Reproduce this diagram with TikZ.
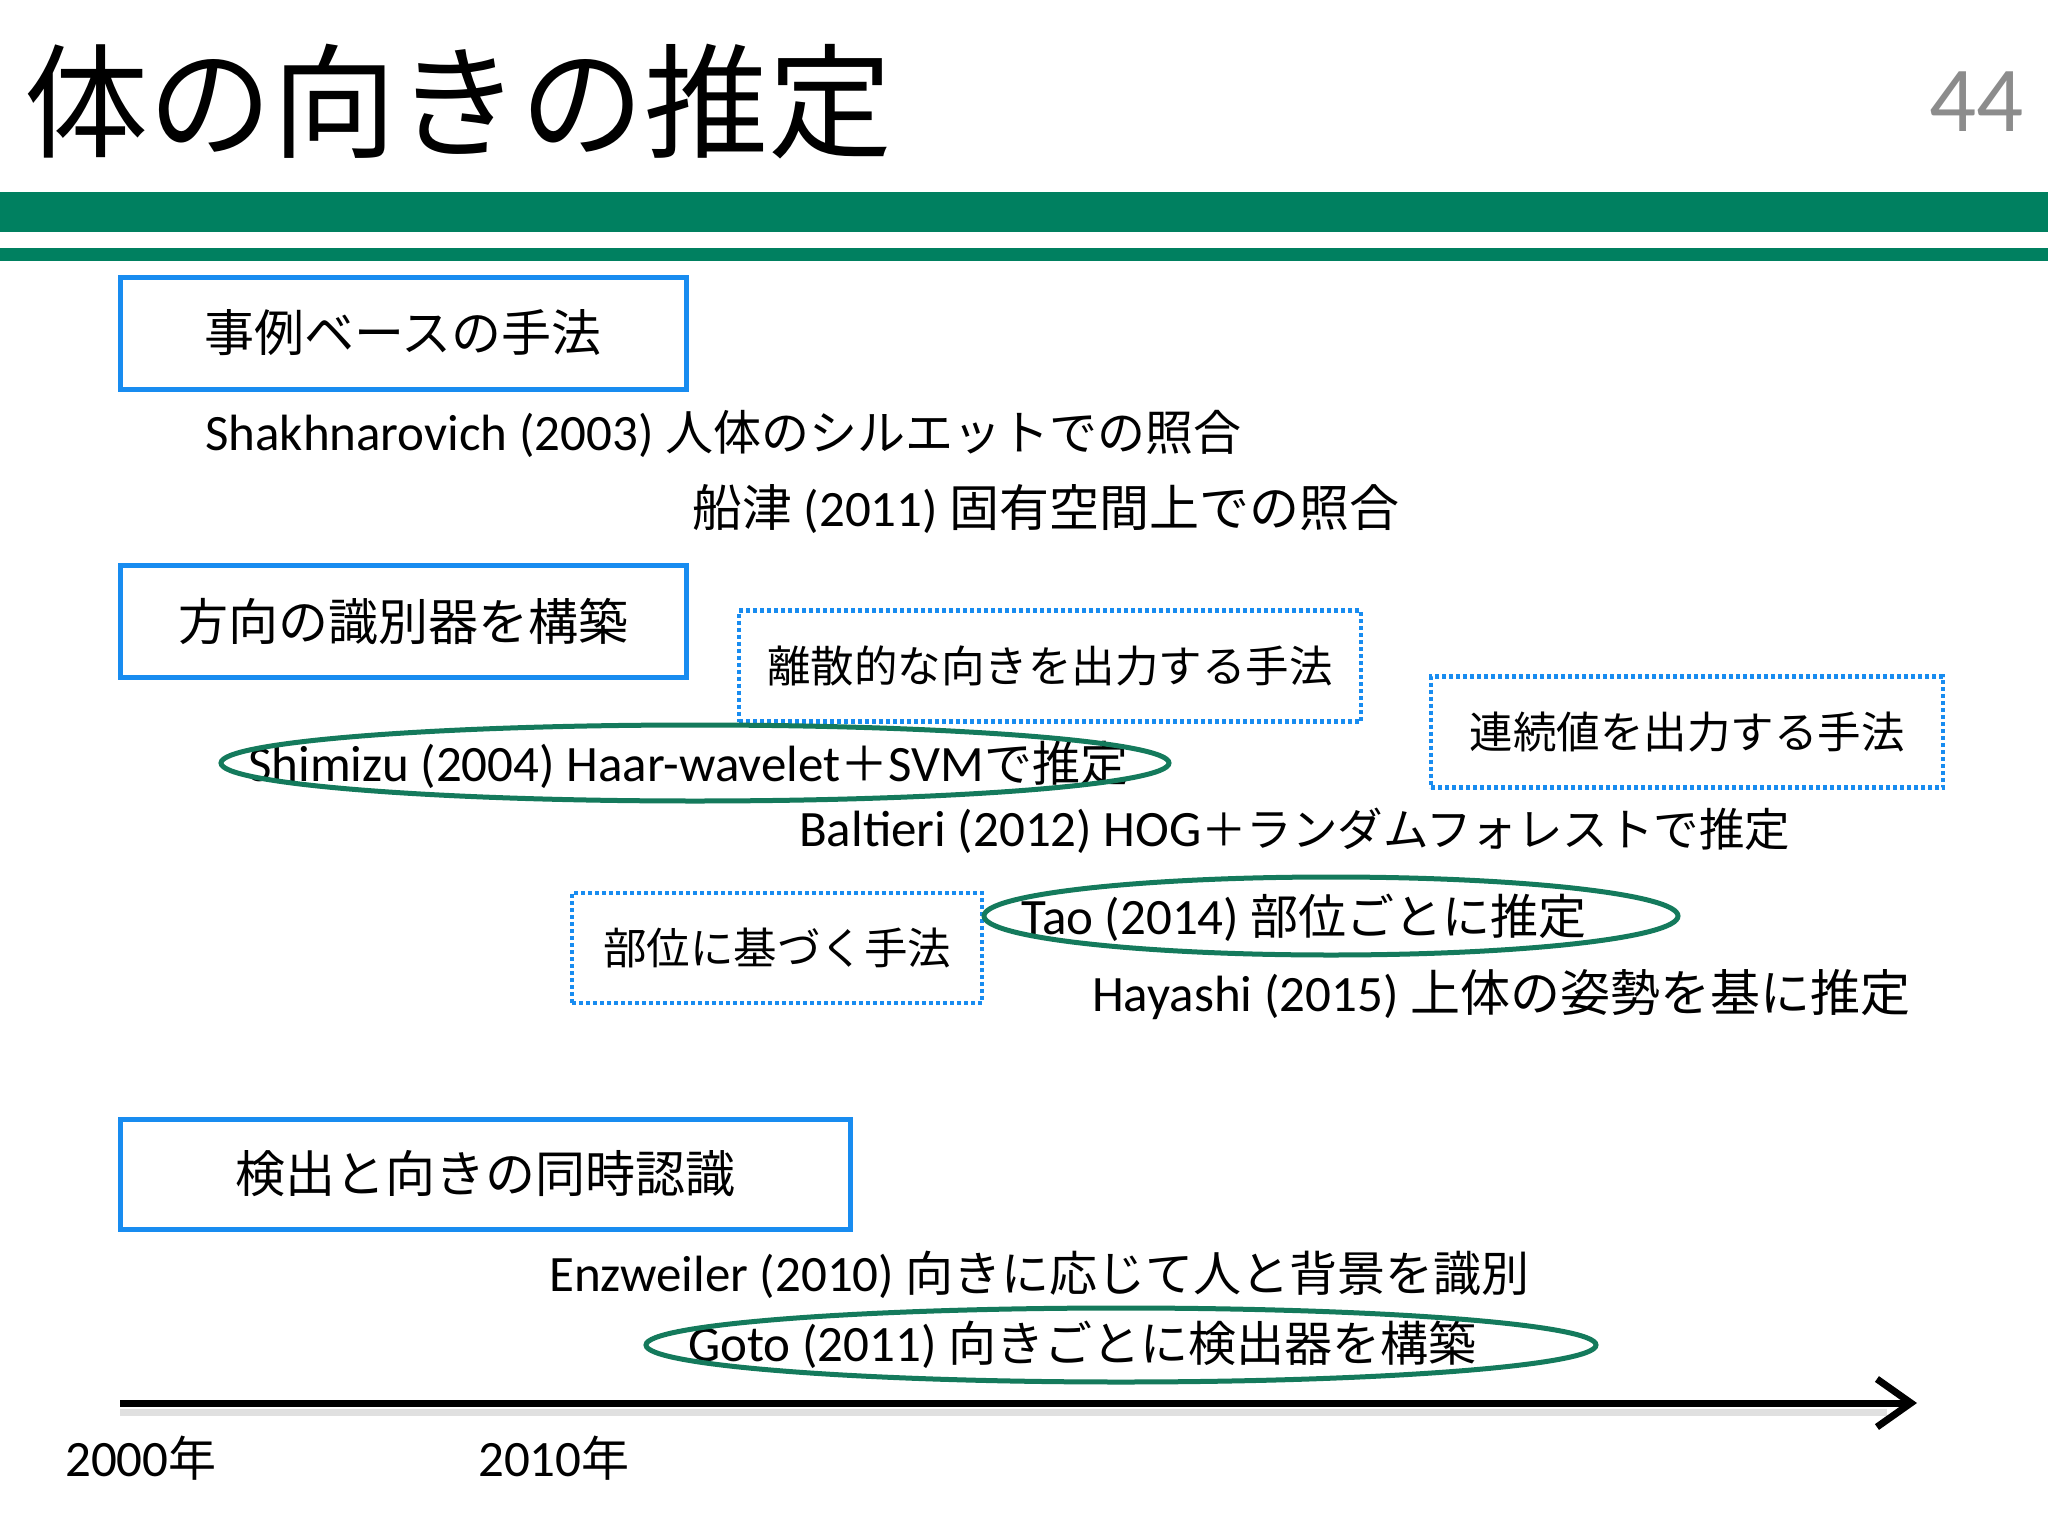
\documentclass[tikz,border=0pt]{standalone}
\usepackage{fontspec}
\setmainfont{Carlito}
\newfontfamily\jpfont{Noto Sans CJK JP}
\newcommand\jp{\jpfont\fontsize{48}{56}\selectfont}
\newcommand\jpb{\jpfont\fontsize{50}{56}\selectfont}
\usetikzlibrary{shapes.geometric,arrows.meta}
\definecolor{bargreen}{RGB}{0,128,96}
\definecolor{ellgreen}{RGB}{20,122,92}
\definecolor{boxblue}{RGB}{24,140,240}
\definecolor{numgray}{RGB}{140,140,140}
\tikzset{
  body/.style={inner sep=0pt, font=\fontsize{51}{56}\selectfont},
  txt/.style={body, anchor=west},
  solidbox/.style={inner sep=0pt, font=\jpfont\fontsize{50}{56}\selectfont, draw=boxblue, line width=5pt, rectangle},
  dotbox/.style={inner sep=0pt, font=\jpfont\fontsize{43.5}{50}\selectfont, draw=boxblue, line width=4.5pt, dash pattern=on 4pt off 3pt, rectangle},
  ovalmark/.style={draw=ellgreen, line width=5pt, ellipse, inner sep=0pt},
}
\begin{document}
\begin{tikzpicture}[x=1pt,y=-1pt]
\useasboundingbox (0,0) rectangle (2048,1536);
\fill[white] (0,0) rectangle (2048,1536);
% title and page number
\node[anchor=west, inner sep=0pt, font=\jpfont\fontsize{124}{140}\selectfont] (title) at (24,102) {体の向きの推定};
\node[anchor=east, inner sep=0pt, text=numgray, font=\fontsize{93}{100}\selectfont] (pagenum) at (2024,102) {44};
% green bars
\fill[bargreen] (0,192) rectangle (2048,232);
\fill[bargreen] (0,248) rectangle (2048,261);
% category boxes
\node[solidbox, minimum width=566pt, minimum height=112pt] (cat1) at (403,333) {事例ベースの手法};
\node[solidbox, minimum width=566pt, minimum height=112pt] (cat2) at (403,621) {方向の識別器を構築};
\node[solidbox, minimum width=730pt, minimum height=110pt] (cat3) at (485,1174) {検出と向きの同時認識};
% dotted sub-category boxes
\node[dotbox, minimum width=622pt, minimum height=111pt] (sub1) at (1050,666) {離散的な向きを出力する手法};
\node[dotbox, minimum width=512pt, minimum height=111pt] (sub2) at (1687,732) {連続値を出力する手法};
\node[dotbox, minimum width=410pt, minimum height=110pt] (sub3) at (777,948) {部位に基づく手法};
% entries
\node[txt] (shak) at (205,434) {Shakhnarovich (2003) {\jp 人体のシルエットでの照合}};
\node[txt] (funa) at (692,509) {{\jpb 船津} (2011) {\jpb 固有空間上での照合}};
\node[txt] (shim) at (248,765) {Shimizu (2004) Haar-wavelet{\jp ＋}SVM{\jp で推定}};
\node[txt] (balt) at (799,831) {Baltieri (2012) HOG{\jpfont\fontsize{45.5}{56}\selectfont ＋ランダムフォレストで推定}};
\node[txt] (tao) at (1021,918) {Tao (2014) {\jp 部位ごとに推定}};
\node[txt] (haya) at (1092,995) {Hayashi (2015) {\jpb 上体の姿勢を基に推定}};
\node[txt] (enzw) at (549,1275) {Enzweiler (2010) {\jp 向きに応じて人と背景を識別}};
\node[txt] (goto) at (688,1345) {Goto (2011) {\jp 向きごとに検出器を構築}};
% highlight ovals
\node[ovalmark, minimum width=948pt, minimum height=76pt] (ovShim) at (695,763) {};
\node[ovalmark, minimum width=694pt, minimum height=78pt] (ovTao) at (1331,916) {};
\node[ovalmark, minimum width=950pt, minimum height=74pt] (ovGoto) at (1121,1345) {};
% timeline
\coordinate (t0) at (120,1403);
\coordinate (t1) at (1917,1403);
\draw[black!12, line width=7pt] ([yshift=-9pt]t0) -- ([yshift=-9pt,xshift=-30pt]t1);
\draw[line width=7pt, -{Straight Barb[length=34pt, width=48pt]}] (t0) -- (t1);
\node[txt] (y2000) at (65,1458) {2000{\jp 年}};
\node[txt] (y2010) at (478,1458) {2010{\jp 年}};
\end{tikzpicture}
\end{document}
